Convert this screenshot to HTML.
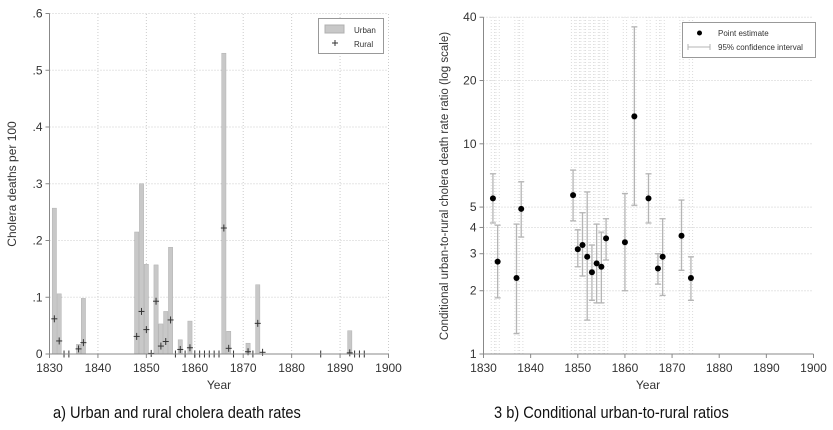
<!DOCTYPE html>
<html><head><meta charset="utf-8"><style>
body{margin:0;background:#fff;width:833px;height:430px;overflow:hidden;font-family:"Liberation Sans",sans-serif}
svg text{font-family:"Liberation Sans",sans-serif}
.cap{position:absolute;top:403px;font-size:17px;color:#111;transform:scaleX(0.86);transform-origin:left top;white-space:nowrap}
</style></head><body>
<svg id="c" width="833" height="430" style="position:absolute;left:0;top:0"></svg>
<div class="cap" style="left:53px">a) Urban and rural cholera death rates</div>
<div class="cap" style="left:494px">3 b) Conditional urban-to-rural ratios</div>
<script>
const urbanYears=[1831,1832,1836,1837,1848,1849,1850,1852,1853,1854,1855,1857,1859,1866,1867,1871,1873,1892];
const urbanVals=[.257,.106,.017,.098,.215,.30,.158,.157,.053,.075,.188,.025,.058,.53,.04,.019,.122,.041];
const ruralYears=[1831,1832,1833,1834,1836,1837,1848,1849,1850,1851,1852,1853,1854,1855,1856,1857,1858,1859,1860,1861,1862,1863,1864,1865,1866,1867,1868,1871,1872,1873,1874,1886,1892,1893,1894,1895];
const ruralVals=[.062,.023,0,0,.009,.02,.031,.075,.043,.001,.093,.014,.022,.06,0,.008,0,.011,0,0,0,0,0,0,.222,.01,0,.004,0,.054,.003,0,.002,0,0,0];
const yTicksA=[0,.1,.2,.3,.4,.5,.6];
const yTickLabelsA=["0",".1",".2",".3",".4",".5",".6"];
const xTicks=[1830,1840,1850,1860,1870,1880,1890,1900];
const ratioYears=[1832,1833,1837,1838,1849,1850,1851,1852,1853,1854,1855,1856,1860,1862,1865,1867,1868,1872,1874];
const ratioEst=[5.5,2.75,2.3,4.9,5.7,3.15,3.3,2.9,2.45,2.7,2.6,3.55,3.4,13.5,5.5,2.55,2.9,3.65,2.3];
const ratioLo=[4.2,1.85,1.25,3.6,4.3,2.6,2.35,1.45,1.8,1.75,1.75,2.8,2.0,5.1,4.2,2.15,1.9,2.5,1.8];
const ratioHi=[7.2,4.1,4.15,6.6,7.5,3.9,4.7,5.9,3.3,4.15,3.8,4.4,5.8,36,7.2,3.0,4.4,5.4,2.9];
const yTicksB=[1,2,3,4,5,10,20,40];

const svg=document.getElementById('c');const NS='http://www.w3.org/2000/svg';
function mk(t,a,p){const e=document.createElementNS(NS,t);for(const k in a)e.setAttribute(k,a[k]);(p||svg).appendChild(e);return e;}
function tx(x,y,s,o){const e=mk('text',Object.assign({x:x,y:y,'font-size':12,fill:'#333'},o||{}));e.textContent=s;return e;}

// Chart A
const ax={x0:49.5,x1:388.5,y0:354,y1:13.5};
const xA=v=>ax.x0+(v-1830)/70*(ax.x1-ax.x0);
const yA=v=>ax.y0-v/0.6*(ax.y0-ax.y1);
const gA=mk('g',{});

yTicksA.forEach((t,i)=>{if(t>0){const l=mk('line',{x1:ax.x0,x2:ax.x1,y1:yA(t),y2:yA(t),stroke:'#ccc','stroke-dasharray':'1,2'},gA);}
 mk('line',{x1:ax.x0-4,x2:ax.x0,y1:yA(t),y2:yA(t),stroke:'#888'},gA);
 const e=tx(ax.x0-7,yA(t)+4,yTickLabelsA[i],{'text-anchor':'end'},);gA.appendChild(e);});
xTicks.forEach(t=>{if(t>1830){const l=mk('line',{x1:xA(t),x2:xA(t),y1:ax.y0,y2:ax.y1,stroke:'#ccc','stroke-dasharray':'1,2'},gA);}
 mk('line',{x1:xA(t),x2:xA(t),y1:ax.y0,y2:ax.y0+4,stroke:'#888'},gA);
 const e=tx(xA(t),ax.y0+18,String(t),{'text-anchor':'middle'});gA.appendChild(e);});
const bw=(ax.x1-ax.x0)/70;
urbanYears.forEach((yr,i)=>{const r=mk('rect',{x:xA(yr)-bw/2+0.3,y:yA(urbanVals[i]),width:bw-0.6,height:ax.y0-yA(urbanVals[i]),fill:'#c8c8c8',stroke:'#b0b0b0','stroke-width':0.5},gA);
 });
ruralYears.forEach((yr,i)=>{const x=xA(yr),y=yA(ruralVals[i]);const g=mk('g',{},gA);
 
 mk('line',{x1:x-3,x2:x+3,y1:y,y2:y,stroke:'#333'},g);mk('line',{x1:x,x2:x,y1:y-3.5,y2:y+3.5,stroke:'#333'},g);});
mk('line',{x1:ax.x0,x2:ax.x0,y1:ax.y1,y2:ax.y0,stroke:'#888'},gA);
mk('line',{x1:ax.x0,x2:ax.x1,y1:ax.y0,y2:ax.y0,stroke:'#888'},gA);
let e=tx(219,389,'Year',{'text-anchor':'middle'});
e=tx(16,184,'Cholera deaths per 100',{'text-anchor':'middle',transform:'rotate(-90 16 184)'});
const lgA=mk('g',{});
mk('rect',{x:318.5,y:18.5,width:65,height:35,fill:'#fff',stroke:'#999'},lgA);
mk('rect',{x:325,y:25,width:19,height:8,fill:'#c8c8c8',stroke:'#b0b0b0'},lgA);
lgA.appendChild(tx(354,33,'Urban',{'font-size':8}));
mk('line',{x1:332,x2:338,y1:43,y2:43,stroke:'#333'},lgA);mk('line',{x1:335,x2:335,y1:40,y2:46,stroke:'#333'},lgA);
lgA.appendChild(tx(354,47,'Rural',{'font-size':8}));

// Chart B
const bx={x0:483.5,x1:813.5,y0:354,dec:210.2};
const xB=v=>bx.x0+(v-1830)/70*(bx.x1-bx.x0);
const yB=v=>bx.y0-Math.log10(v)*bx.dec;
const gB=mk('g',{});
yTicksB.forEach(t=>{if(t>1){const l=mk('line',{x1:bx.x0,x2:bx.x1,y1:yB(t),y2:yB(t),stroke:'#ccc','stroke-dasharray':'1,2'},gB);}
 mk('line',{x1:bx.x0-4,x2:bx.x0,y1:yB(t),y2:yB(t),stroke:'#888'},gB);
 const e=tx(bx.x0-7,yB(t)+4,String(t),{'text-anchor':'end'});gB.appendChild(e);});
ratioYears.forEach(yr=>{[-0.35,0.35].forEach(d=>{const l=mk('line',{x1:xB(yr+d),x2:xB(yr+d),y1:bx.y0,y2:yB(40),stroke:'#dcdcdc','stroke-dasharray':'1,2'},gB);});});
xTicks.forEach(t=>{mk('line',{x1:xB(t),x2:xB(t),y1:bx.y0,y2:bx.y0+4,stroke:'#888'},gB);
 const e=tx(xB(t),bx.y0+18,String(t),{'text-anchor':'middle'});gB.appendChild(e);});
ratioYears.forEach((yr,i)=>{const x=xB(yr);const g=mk('g',{},gB);
 
 mk('line',{x1:x,x2:x,y1:yB(ratioLo[i]),y2:yB(ratioHi[i]),stroke:'#b5b5b5','stroke-width':1.3},g);
 mk('line',{x1:x-3,x2:x+3,y1:yB(ratioLo[i]),y2:yB(ratioLo[i]),stroke:'#b5b5b5','stroke-width':1.3},g);
 mk('line',{x1:x-3,x2:x+3,y1:yB(ratioHi[i]),y2:yB(ratioHi[i]),stroke:'#b5b5b5','stroke-width':1.3},g);
 const c=mk('circle',{cx:x,cy:yB(ratioEst[i]),r:3,fill:'#000'},gB);
 });
mk('line',{x1:bx.x0,x2:bx.x0,y1:yB(40),y2:bx.y0,stroke:'#888'},gB);
mk('line',{x1:bx.x0,x2:bx.x1,y1:bx.y0,y2:bx.y0,stroke:'#888'},gB);
e=tx(648,389,'Year',{'text-anchor':'middle'});
e=tx(448,186,'Conditional urban-to-rural cholera death rate ratio (log scale)',{'text-anchor':'middle','font-size':11.5,transform:'rotate(-90 448 186)'});
const lgB=mk('g',{});
mk('rect',{x:682.5,y:22.5,width:133,height:35,fill:'#fff',stroke:'#999'},lgB);
mk('circle',{cx:699.5,cy:33,r:2.5,fill:'#000'},lgB);
lgB.appendChild(tx(718,36,'Point estimate',{'font-size':8}));
mk('line',{x1:688,x2:710,y1:47,y2:47,stroke:'#b5b5b5'},lgB);mk('line',{x1:688,x2:688,y1:44,y2:50,stroke:'#b5b5b5'},lgB);mk('line',{x1:710,x2:710,y1:44,y2:50,stroke:'#b5b5b5'},lgB);
lgB.appendChild(tx(718,50,'95% confidence interval',{'font-size':8}));
</script>
</body></html>
